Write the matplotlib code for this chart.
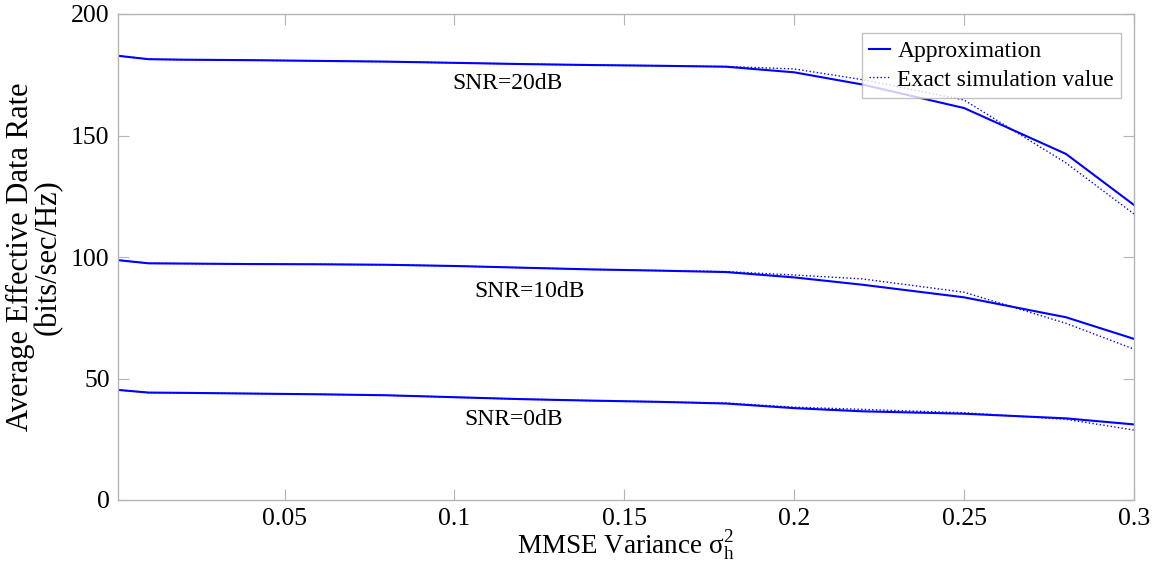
import matplotlib
matplotlib.use("Agg")
import matplotlib.pyplot as plt

plt.rcParams['font.family'] = ['Liberation Serif', 'DejaVu Serif']
plt.rcParams['mathtext.fontset'] = 'custom'
plt.rcParams['mathtext.rm'] = 'Liberation Serif'
plt.rcParams['mathtext.it'] = 'Liberation Serif'

x_vals = [0.001, 0.01, 0.02, 0.04, 0.06, 0.08, 0.1, 0.12, 0.14, 0.16, 0.18, 0.2, 0.22, 0.25, 0.28, 0.3]

approx_20 = [182.8, 181.4, 181.2, 181.0, 180.7, 180.4, 179.9, 179.4, 179.0, 178.7, 178.3, 176.0, 171.0, 161.3, 142.4, 121.4]
exact_20  = [182.8, 181.4, 181.2, 181.0, 180.7, 180.4, 179.9, 179.4, 179.0, 178.7, 178.4, 177.4, 173.0, 164.6, 138.7, 117.7]

approx_10 = [98.7, 97.4, 97.3, 97.1, 97.0, 96.8, 96.3, 95.6, 94.9, 94.4, 93.8, 91.6, 88.6, 83.4, 75.2, 66.3]
exact_10  = [98.7, 97.4, 97.3, 97.1, 97.0, 96.8, 96.3, 95.6, 94.9, 94.4, 94.0, 92.6, 91.0, 85.5, 72.7, 62.1]

approx_0 = [45.3, 44.2, 44.1, 43.8, 43.5, 43.1, 42.3, 41.5, 40.9, 40.4, 39.7, 37.8, 36.5, 35.5, 33.6, 31.1]
exact_0  = [45.3, 44.2, 44.1, 43.8, 43.5, 43.1, 42.3, 41.5, 40.9, 40.4, 39.9, 38.2, 37.3, 35.9, 33.2, 28.8]

x_ticks = [0.05, 0.1, 0.15, 0.2, 0.25, 0.3]
x_tick_labels = ['0.05', '0.1', '0.15', '0.2', '0.25', '0.3']
y_ticks = [0, 50, 100, 150, 200]

snr_labels = ['SNR=20dB', 'SNR=10dB', 'SNR=0dB']
snr_label_x = [0.0995, 0.106, 0.1028]
snr_label_y = [171.6, 85.7, 33.2]

W, H = 1168, 570
fig = plt.figure(figsize=(W / 100, H / 100), dpi=100)
ax = fig.add_axes([118 / W, (H - 500) / H, (1134 - 118) / W, (500 - 14) / H])

blue = '#0000ff'
ax.plot(x_vals, approx_20, color=blue, lw=1.5, label='Approximation')
ax.plot(x_vals, exact_20, color=blue, lw=1.0, ls=':', label='Exact simulation value')
ax.plot(x_vals, approx_10, color=blue, lw=1.5)
ax.plot(x_vals, exact_10, color=blue, lw=1.0, ls=':')
ax.plot(x_vals, approx_0, color=blue, lw=1.5)
ax.plot(x_vals, exact_0, color=blue, lw=1.0, ls=':')

for t, xx, yy in zip(snr_labels, snr_label_x, snr_label_y):
    ax.text(xx, yy, t, fontsize=17, ha='left', va='center')

ax.set_xlim(0.001, 0.3)
ax.set_ylim(0, 200)
ax.set_xticks(x_ticks)
ax.set_xticklabels(x_tick_labels)
ax.set_yticks(y_ticks)

for s in ax.spines.values():
    s.set_color('#b4b4b4')
    s.set_linewidth(1.0)
ax.tick_params(direction='in', length=8, width=0.8, color='#b4b4b4',
               top=True, right=True, labelsize=18.5, pad=6)

ax.set_xlabel(r'MMSE Variance $\mathregular{\sigma_h^2}$', fontsize=19.5, labelpad=-1)
ax.set_ylabel('Average Effective Data Rate\n(bits/sec/Hz)', fontsize=22, labelpad=6, linespacing=0.95)

leg = ax.legend(loc='upper right', bbox_to_anchor=(0.9875, 0.96), fontsize=17,
                frameon=True, fancybox=False, handlelength=0.9, handletextpad=0.3,
                borderpad=0.3, labelspacing=0.3, borderaxespad=0)
leg.get_frame().set_edgecolor('#b4b4b4')
leg.get_frame().set_linewidth(1.0)

fig.savefig('out.png', dpi=100)
